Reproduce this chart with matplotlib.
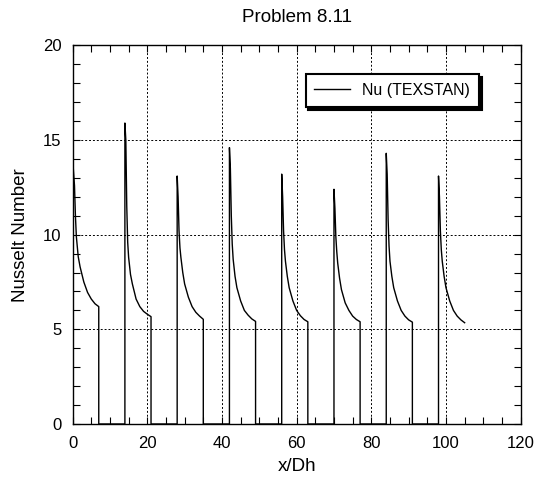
import numpy as np
import matplotlib.pyplot as plt
from matplotlib.ticker import MultipleLocator

plt.rcParams.update({
    "font.family": "sans-serif",
    "font.sans-serif": ["Liberation Sans", "DejaVu Sans"],
    "font.size": 12,
    "axes.linewidth": 1.0,
})

# heated sections: start positions (x/Dh) and offsets inside each section
section_start = [0, 14, 28, 42, 56, 70, 84, 98]
dx = [0, 0.25, 0.5, 0.75, 1, 1.5, 2, 3, 4, 5, 6, 7]

# Nusselt number read along each heated section
nu_s1 = [14.0, 13.3, 12.6, 11.0, 9.9, 8.84, 8.3, 7.5, 6.95, 6.6, 6.35, 6.2]
nu_s2 = [15.9, 15.0, 11.5, 9.6, 8.8, 7.9, 7.4, 6.6, 6.2, 5.95, 5.8, 5.67]
nu_s3 = [13.1, 12.0, 10.2, 9.3, 8.8, 8.0, 7.4, 6.7, 6.2, 5.9, 5.7, 5.53]
nu_s4 = [14.6, 13.5, 11.0, 9.5, 8.7, 7.8, 7.2, 6.5, 6.0, 5.75, 5.55, 5.42]
nu_s5 = [13.2, 12.0, 10.2, 9.2, 8.6, 7.8, 7.2, 6.5, 6.0, 5.72, 5.52, 5.4]
nu_s6 = [12.4, 11.4, 9.9, 9.1, 8.5, 7.7, 7.1, 6.4, 6.0, 5.7, 5.52, 5.4]
nu_s7 = [14.3, 13.2, 10.8, 9.4, 8.6, 7.8, 7.2, 6.5, 6.0, 5.7, 5.5, 5.38]
nu_s8 = [13.1, 12.0, 10.2, 9.2, 8.6, 7.8, 7.2, 6.5, 6.0, 5.7, 5.5, 5.35]
sections = [nu_s1, nu_s2, nu_s3, nu_s4, nu_s5, nu_s6, nu_s7, nu_s8]

# build the full trace: Nu drops to 0 over the unheated gaps
xs, ys = [], []
for i, (x0, nu) in enumerate(zip(section_start, sections)):
    sx = [x0 + d for d in dx]
    if i > 0:
        xs.append(sx[0]); ys.append(0)
    xs += sx; ys += nu
    if i < len(sections) - 1:
        xs.append(sx[-1]); ys.append(0)

fig = plt.figure(figsize=(5.34, 4.78), dpi=100)
ax = fig.add_axes([0.136, 0.113, 0.839, 0.792])

ax.plot(xs, ys, color="black", lw=1.0, label="Nu (TEXSTAN)")

ax.set_xlim(0, 120)
ax.set_ylim(0, 20)
ax.xaxis.set_major_locator(MultipleLocator(20))
ax.xaxis.set_minor_locator(MultipleLocator(5))
ax.yaxis.set_major_locator(MultipleLocator(5))
ax.yaxis.set_minor_locator(MultipleLocator(1))
ax.tick_params(which="both", direction="in", top=True, right=True,
               length=5, width=0.8, labelsize=12)
ax.tick_params(axis="x", pad=9)
ax.tick_params(axis="y", pad=8)
ax.grid(True, which="major", color="black", linestyle=(0, (2, 2)), lw=0.7)

ax.set_xlabel("x/Dh", fontsize=13.5, labelpad=5)
ax.set_ylabel("Nusselt Number", fontsize=13.5, labelpad=10)
ax.set_title("Problem 8.11", fontsize=13.5, pad=17)

leg = ax.legend(loc="upper right", bbox_to_anchor=(0.907, 0.924),
                fancybox=False, edgecolor="black", framealpha=1,
                shadow={"color": "black", "alpha": 1},
                handlelength=2.2, borderaxespad=0, fontsize=11.5,
                borderpad=0.55)
leg.get_frame().set_linewidth(1.5)

fig.savefig("out.png", dpi=100)
